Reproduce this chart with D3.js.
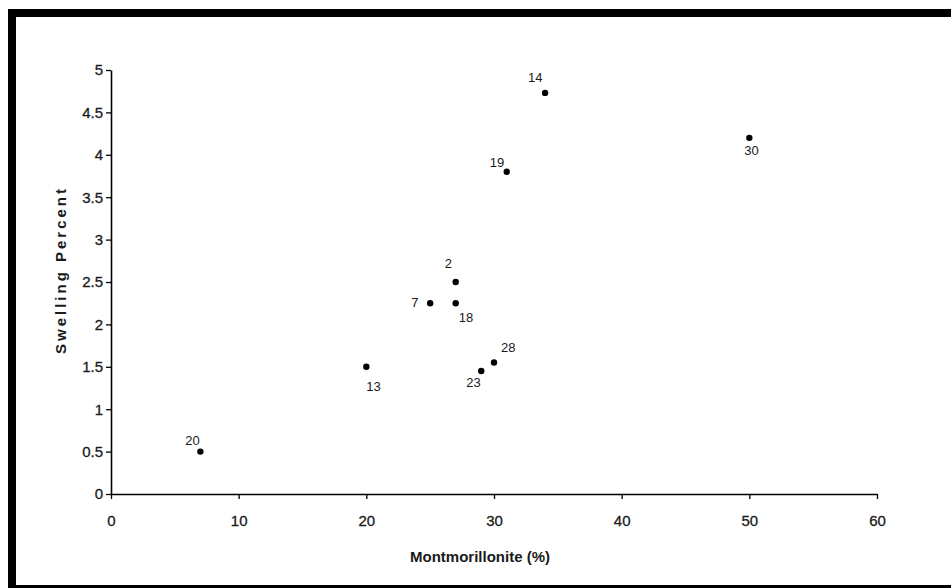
<!DOCTYPE html>
<html><head><meta charset="utf-8">
<script src="https://cdn.jsdelivr.net/npm/d3@7"></script>
<style>
html,body{margin:0;padding:0;background:#fff;}
svg{display:block;font-family:"Liberation Sans",Arial,sans-serif;}
</style></head>
<body>
<svg id="chart" width="951" height="588"></svg>
<script>
const sampleLabels = ["14","30","19","2","7","18","13","28","23","20"];
const montmorillonite = [34, 50, 31, 27, 25, 27, 20, 30, 29, 7];
const swelling = [4.73, 4.2, 3.8, 2.5, 2.25, 2.25, 1.5, 1.55, 1.45, 0.5];
// label offsets (dx, dy) relative to point
const labelDx = [-17, -5, -17, -11, -19, 3, 0, 7, -15, -15];
const labelDy = [-11, 17, -5, -14, 4, 19, 24, -11, 16, -7];
const xTicks = [0, 10, 20, 30, 40, 50, 60];
const yTicks = [0, 0.5, 1, 1.5, 2, 2.5, 3, 3.5, 4, 4.5, 5];

const svg = d3.select("#chart");
// frame
svg.append("rect").attr("x", 8).attr("y", 9).attr("width", 8).attr("height", 579).attr("fill", "#000");
svg.append("rect").attr("x", 8).attr("y", 9).attr("width", 943).attr("height", 8).attr("fill", "#000");
svg.append("rect").attr("x", 8).attr("y", 585).attr("width", 943).attr("height", 3).attr("fill", "#000");

const x = d3.scaleLinear().domain([0, 60]).range([111, 877]);
const y = d3.scaleLinear().domain([0, 5]).range([494, 70]);

const narrow = "'Liberation Sans Narrow','Liberation Sans',Arial,sans-serif";
const xAxis = svg.append("g").attr("transform", "translate(0,494)")
  .call(d3.axisBottom(x).tickValues(xTicks).tickSize(5).tickPadding(16).tickSizeOuter(0).tickFormat(d3.format("d")));
const yAxis = svg.append("g").attr("transform", "translate(111,0)")
  .call(d3.axisLeft(y).tickValues(yTicks).tickSize(5).tickPadding(3).tickSizeOuter(0).tickFormat(d => String(d)));
[xAxis, yAxis].forEach(g => {
  g.select(".domain").attr("stroke", "#000").attr("stroke-width", 1.6);
  g.selectAll(".tick line").attr("stroke", "#000").attr("stroke-width", 1.3);
  g.selectAll(".tick text").attr("fill", "#1a1a1a").attr("font-size", 15)
    .attr("font-family", narrow).attr("stroke", "#1a1a1a").attr("stroke-width", 0.3);
});
xAxis.selectAll(".tick text").attr("dy", "0.71em");

// axis titles
svg.append("text").attr("x", 480).attr("y", 562).attr("text-anchor", "middle")
  .attr("font-size", 15).attr("font-weight", "bold").attr("fill", "#1a1a1a")
  .attr("font-family", narrow)
  .text("Montmorillonite (%)");
svg.append("text").attr("transform", "translate(66,270) rotate(-90)").attr("text-anchor", "middle")
  .attr("font-size", 15).attr("font-weight", "bold").attr("fill", "#1a1a1a").attr("letter-spacing", 3)
  .text("Swelling Percent");

const pts = sampleLabels.map((l, i) => ({l, x: montmorillonite[i], y: swelling[i], dx: labelDx[i], dy: labelDy[i]}));
svg.append("g").selectAll("circle").data(pts).join("circle")
  .attr("cx", d => x(d.x)).attr("cy", d => y(d.y)).attr("r", 3.2).attr("fill", "#000");
svg.append("g").selectAll("text").data(pts).join("text")
  .attr("x", d => x(d.x) + d.dx).attr("y", d => y(d.y) + d.dy)
  .attr("font-size", 13).attr("fill", "#1a1a1a")
  .attr("font-family", narrow)
  .text(d => d.l);
</script>
</body></html>
